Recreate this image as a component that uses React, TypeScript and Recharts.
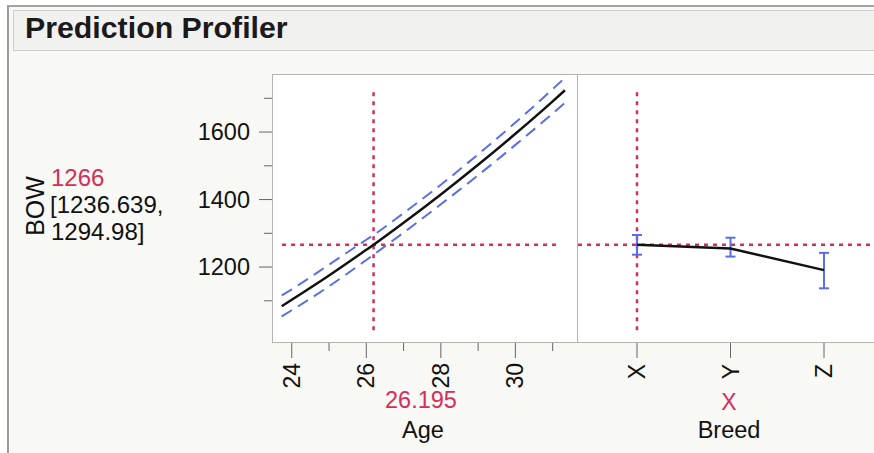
import { LineChart, Line, XAxis, YAxis, ReferenceLine, ErrorBar } from "recharts";

// profile for Age (Breed held at X)
const ages = [23.73, 24, 25, 26, 26.195, 27, 28, 29, 30, 31, 31.33];
const bowFit = [1084, 1103, 1175, 1251, 1266, 1331, 1415, 1503, 1595, 1691, 1724];
const bowLower = [1054, 1072, 1143, 1221, 1236.639, 1302, 1386, 1472, 1562, 1655, 1687];
const bowUpper = [1116, 1134, 1207, 1281, 1294.98, 1360, 1444, 1534, 1628, 1727, 1761];

// profile for Breed (Age held at 26.195)
const breeds = ["X", "Y", "Z"];
const breedFit = [1266, 1255, 1191];
const breedLower = [1236.639, 1231, 1137];
const breedUpper = [1294.98, 1287, 1242];

const ageTicks = [24, 25, 26, 27, 28, 29, 30, 31];
const bowTicks = [1100, 1200, 1300, 1400, 1500, 1600, 1700];

const currentAge = 26.195;
const currentBreed = "X";
const currentBow = 1266;
const ciText = ["[1236.639,", "1294.98]"];

const RED = "#d42e5b";
const BLUE = "#5a6ee6";
const FONT = "'Liberation Sans', Arial, sans-serif";
const Y_DOMAIN = [975, 1772];

const ageRows = ages.map((a, i) => ({
  age: a,
  fit: bowFit[i],
  lo: bowLower[i],
  hi: bowUpper[i],
}));

const breedRows = breeds.map((b, i) => ({
  breed: b,
  fit: breedFit[i],
  err: [breedFit[i] - breedLower[i], breedUpper[i] - breedFit[i]],
}));

function AgeTick({ x, y, payload }: any) {
  const major = payload.value % 2 === 0;
  return (
    <g>
      <line x1={x} y1={y} x2={x} y2={y + (major ? 15 : 8)} stroke="#666" strokeWidth={1} />
      {major && (
        <text
          x={x}
          y={y + 20}
          transform={`rotate(-90 ${x} ${y + 20})`}
          textAnchor="end"
          dy="0.35em"
          fontSize={23}
          fontFamily={FONT}
          fill="#111"
        >
          {payload.value}
        </text>
      )}
    </g>
  );
}

function BreedTick({ x, y, payload }: any) {
  return (
    <g>
      <line x1={x} y1={y} x2={x} y2={y + 15} stroke="#666" strokeWidth={1} />
      <text
        x={x}
        y={y + 21}
        transform={`rotate(-90 ${x} ${y + 21})`}
        textAnchor="end"
        dy="0.35em"
        fontSize={23}
        fontFamily={FONT}
        fill="#111"
      >
        {payload.value}
      </text>
    </g>
  );
}

function BowTick({ x, y, payload }: any) {
  const major = payload.value % 200 === 0;
  return (
    <g>
      <line x1={x - (major ? 13 : 8)} y1={y} x2={x} y2={y} stroke="#666" strokeWidth={1} />
      {major && (
        <text
          x={x - 22}
          y={y}
          textAnchor="end"
          dy="0.35em"
          fontSize={23.5}
          fontFamily={FONT}
          fill="#111"
        >
          {payload.value}
        </text>
      )}
    </g>
  );
}

export default function App() {
  return (
    <div
      style={{
        position: "fixed",
        left: 0,
        top: 0,
        width: 874,
        height: 453,
        overflow: "hidden",
        background: "#fff",
        fontFamily: FONT,
      }}
    >
      {/* outer frame + title bar */}
      <div
        style={{
          position: "absolute",
          left: 7,
          top: 5,
          width: 900,
          height: 460,
          background: "#f8f8f5",
          borderLeft: "2px solid #9c9c9c",
          borderTop: "2px solid #a5a5a5",
        }}
      />
      <div
        style={{
          position: "absolute",
          left: 13,
          top: 10,
          width: 900,
          height: 39,
          background: "#f1f1f0",
          border: "1px solid #cfcfcf",
        }}
      />
      {/* plot backgrounds */}
      <div
        style={{
          position: "absolute",
          left: 272,
          top: 74,
          width: 306,
          height: 269,
          background: "#fff",
          border: "1px solid #b3b3b3",
          boxSizing: "border-box",
        }}
      />
      <div
        style={{
          position: "absolute",
          left: 577,
          top: 74,
          width: 306,
          height: 269,
          background: "#fff",
          border: "1px solid #b3b3b3",
          boxSizing: "border-box",
        }}
      />

      <div style={{ position: "absolute", left: 180, top: 60 }}>
        <LineChart
          width={398}
          height={343}
          data={ageRows}
          margin={{ top: 14, right: 0, left: 0, bottom: 0 }}
        >
          <XAxis
            dataKey="age"
            type="number"
            domain={[23.47, 31.68]}
            ticks={ageTicks}
            interval={0}
            allowDataOverflow
            axisLine={false}
            tickLine={false}
            tickSize={0}
            tickMargin={0}
            height={60}
            tick={<AgeTick />}
          />
          <YAxis
            type="number"
            domain={Y_DOMAIN}
            ticks={bowTicks}
            interval={0}
            allowDataOverflow
            axisLine={false}
            tickLine={false}
            tickSize={0}
            tickMargin={0}
            width={92}
            tick={<BowTick />}
          />
          <ReferenceLine
            segment={[
              { x: currentAge, y: 1013 },
              { x: currentAge, y: 1718 },
            ]}
            stroke={RED}
            strokeWidth={2.5}
            strokeDasharray="4 5"
          />
          <ReferenceLine
            segment={[
              { x: 23.74, y: currentBow },
              { x: 31.19, y: currentBow },
            ]}
            stroke={RED}
            strokeWidth={2.5}
            strokeDasharray="4 5"
          />
          <Line
            dataKey="lo"
            type="monotone"
            stroke={BLUE}
            strokeWidth={2}
            strokeDasharray="12 7"
            dot={false}
            isAnimationActive={false}
          />
          <Line
            dataKey="hi"
            type="monotone"
            stroke={BLUE}
            strokeWidth={2}
            strokeDasharray="12 7"
            dot={false}
            isAnimationActive={false}
          />
          <Line
            dataKey="fit"
            type="monotone"
            stroke="#111"
            strokeWidth={2.5}
            dot={false}
            isAnimationActive={false}
          />
        </LineChart>
      </div>

      <div style={{ position: "absolute", left: 578, top: 60 }}>
        <LineChart
          width={305}
          height={343}
          data={breedRows}
          margin={{ top: 14, right: 0, left: 0, bottom: 0 }}
        >
          <XAxis
            dataKey="breed"
            type="category"
            scale="point"
            padding={{ left: 59, right: 59 }}
            interval={0}
            axisLine={false}
            tickLine={false}
            tickSize={0}
            tickMargin={0}
            height={60}
            tick={<BreedTick />}
          />
          <YAxis type="number" domain={Y_DOMAIN} allowDataOverflow hide />
          <ReferenceLine
            segment={[
              { x: currentBreed, y: 1013 },
              { x: currentBreed, y: 1718 },
            ]}
            stroke={RED}
            strokeWidth={2.5}
            strokeDasharray="4 5"
          />
          <ReferenceLine y={currentBow} stroke={RED} strokeWidth={2.5} strokeDasharray="4 5" />
          <Line
            dataKey="fit"
            type="linear"
            stroke="#111"
            strokeWidth={2.5}
            dot={false}
            isAnimationActive={false}
          >
            <ErrorBar dataKey="err" direction="y" width={5} stroke={BLUE} strokeWidth={2} />
          </Line>
        </LineChart>
      </div>

      {/* text overlay */}
      <svg
        width={874}
        height={453}
        style={{ position: "absolute", left: 0, top: 0, pointerEvents: "none" }}
        fontFamily={FONT}
      >
        <text x={25} y={37.5} fontSize={30.3} fontWeight="bold" fill="#1a1a1a">
          Prediction Profiler
        </text>
        <text
          x={35}
          y={206}
          transform="rotate(-90 35 206)"
          textAnchor="middle"
          dy="0.35em"
          fontSize={25}
          fill="#111"
        >
          BOW
        </text>
        <text x={51} y={186} fontSize={24} fill={RED}>
          {currentBow}
        </text>
        <text x={50} y={213} fontSize={24} fill="#111">
          {ciText[0]}
        </text>
        <text x={51} y={240} fontSize={24} fill="#111">
          {ciText[1]}
        </text>
        <text x={421} y={408} textAnchor="middle" fontSize={23.5} fill={RED}>
          {currentAge}
        </text>
        <text x={423} y={438} textAnchor="middle" fontSize={23.5} fill="#111">
          Age
        </text>
        <text x={729} y={410} textAnchor="middle" fontSize={23} fill={RED}>
          {currentBreed}
        </text>
        <text x={729} y={438} textAnchor="middle" fontSize={23.5} fill="#111">
          Breed
        </text>
      </svg>
    </div>
  );
}
